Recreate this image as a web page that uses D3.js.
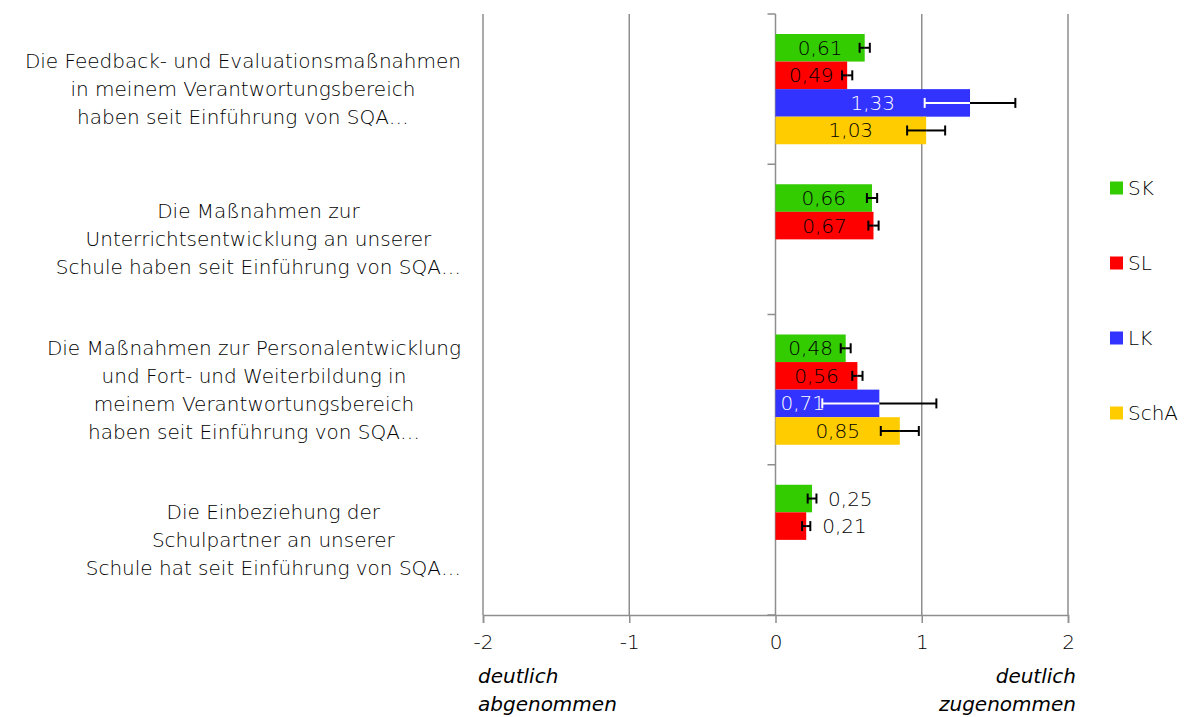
<!DOCTYPE html>
<meta charset="utf-8">
<style>
    * { margin: 0px; }
    body { background: #fff; }
    text {
        font-family: "DejaVu Sans", sans-serif;
        font-weight: 200;
        fill: #000;
    }
    .grid line, .axis line { stroke: #8e8e8e; stroke-width: 1.5px; }
</style>
<svg width="1192" height="717"></svg>
<script src="https://cdn.jsdelivr.net/npm/d3@7/dist/d3.min.js"></script>
<script>
    // categories (each one is drawn as several lines)
    var categories = [
        ["Die Feedback- und Evaluationsmaßnahmen", "in meinem Verantwortungsbereich", "haben seit Einführung von SQA…"],
        ["Die Maßnahmen zur", "Unterrichtsentwicklung an unserer", "Schule haben seit Einführung von SQA…"],
        ["Die Maßnahmen zur Personalentwicklung", "und Fort- und Weiterbildung in", "meinem Verantwortungsbereich", "haben seit Einführung von SQA…"],
        ["Die Einbeziehung der", "Schulpartner an unserer", "Schule hat seit Einführung von SQA…"]
    ];
    var series = ["SK", "SL", "LK", "SchA"];
    var colors = ["#33cc00", "#ff0000", "#3333ff", "#ffcc00"];

    var valSK = [0.61, 0.66, 0.48, 0.25];
    var valSL = [0.49, 0.67, 0.56, 0.21];
    var valLK = [1.33, null, 0.71, null];
    var valSchA = [1.03, null, 0.85, null];

    var errSK = [0.035, 0.035, 0.034, 0.03];
    var errSL = [0.035, 0.035, 0.035, 0.028];
    var errLK = [0.31, null, 0.39, null];
    var errSchA = [0.13, null, 0.13, null];

    var ticks = [-2, -1, 0, 1, 2];
    var leftNote = ["deutlich", "abgenommen"];
    var rightNote = ["deutlich", "zugenommen"];

    var values = [valSK, valSL, valLK, valSchA];
    var errors = [errSK, errSL, errLK, errSchA];

    var svg = d3.select("svg");
    var plotTop = 14, plotBottom = 615;
    var fs = "20px";

    var x = d3.scaleLinear().domain([-2, 2]).range([483, 1068]);
    var y = d3.scaleBand().domain(d3.range(categories.length)).range([plotTop, plotBottom]);
    var ySub = d3.scaleBand().domain(series).range([20, y.bandwidth() - 20]);

    // grid lines
    svg.append("g").attr("class", "grid")
        .selectAll("line")
        .data(ticks.filter(function(t) { return t !== 0; }))
        .enter().append("line")
        .attr("x1", function(d) { return x(d); })
        .attr("x2", function(d) { return x(d); })
        .attr("y1", plotTop)
        .attr("y2", plotBottom);

    // x axis
    var xAxis = svg.append("g").attr("class", "axis")
        .attr("transform", "translate(0," + plotBottom + ")")
        .call(d3.axisBottom(x).tickValues(ticks).tickSize(8).tickPadding(12).tickFormat(String));
    xAxis.select(".domain").attr("stroke", "#8e8e8e").attr("stroke-width", 1.5);
    xAxis.selectAll("text").style("font-size", fs).attr("fill", "#000")
        .attr("font-family", "DejaVu Sans").attr("font-weight", 200);

    // y axis at zero
    var yAxis = svg.append("g").attr("class", "axis");
    yAxis.append("line")
        .attr("x1", x(0)).attr("x2", x(0))
        .attr("y1", plotTop).attr("y2", plotBottom);
    yAxis.selectAll("line.tick")
        .data(d3.range(categories.length + 1))
        .enter().append("line")
        .attr("class", "tick")
        .attr("x1", x(0) - 8).attr("x2", x(0))
        .attr("y1", function(d) { return plotTop + d * y.bandwidth(); })
        .attr("y2", function(d) { return plotTop + d * y.bandwidth(); });

    // category labels: block right-aligned at 460, lines centred in block
    categories.forEach(function(lines, i) {
        var g = svg.append("g");
        var cy = y(i) + y.bandwidth() / 2;
        var t = g.selectAll("text").data(lines).enter().append("text")
            .attr("text-anchor", "middle")
            .style("font-size", fs)
            .attr("y", function(d, j) { return cy + (j - (lines.length - 1) / 2) * 28 + 7; })
            .text(function(d) { return d; });
        var maxW = d3.max(t.nodes(), function(n) { return n.getComputedTextLength(); });
        t.attr("x", 461 - maxW / 2);
    });

    // bars
    var fmt = function(v) { return d3.format(".2f")(v).replace(".", ","); };
    var bars = [];
    series.forEach(function(s, si) {
        values[si].forEach(function(v, ci) {
            if (v === null) return;
            bars.push({ s: s, si: si, ci: ci, v: v, e: errors[si][ci] });
        });
    });

    var bh = ySub.bandwidth();
    var barG = svg.append("g").selectAll("g").data(bars).enter().append("g")
        .attr("transform", function(d) { return "translate(0," + (y(d.ci) + ySub(d.s)) + ")"; });

    barG.append("rect")
        .attr("x", x(0))
        .attr("y", 0)
        .attr("width", function(d) { return x(d.v) - x(0); })
        .attr("height", bh)
        .attr("fill", function(d) { return colors[d.si]; });

    // error bars, white where they sit on the blue bar
    function errColor(d) { return d.s === "LK" ? "#fff" : "#000"; }
    barG.each(function(d) {
        var g = d3.select(this);
        var lo = x(d.v - d.e), hi = x(d.v + d.e), mid = bh / 2, xv = x(d.v);
        g.append("line").attr("x1", lo).attr("x2", xv).attr("y1", mid).attr("y2", mid)
            .attr("stroke", errColor(d)).attr("stroke-width", 2);
        g.append("line").attr("x1", xv).attr("x2", hi).attr("y1", mid).attr("y2", mid)
            .attr("stroke", "#000").attr("stroke-width", 2);
        g.append("line").attr("x1", lo).attr("x2", lo).attr("y1", mid - 5).attr("y2", mid + 5)
            .attr("stroke", errColor(d)).attr("stroke-width", 2);
        g.append("line").attr("x1", hi).attr("x2", hi).attr("y1", mid - 5).attr("y2", mid + 5)
            .attr("stroke", "#000").attr("stroke-width", 2);
    });

    // value labels: centred, at the base if the error bar would cross it, outside for short bars
    function labelPos(d) {
        if (d.v < 0.3) return { x: x(d.v) + 16, a: "start" };
        var c = (x(0) + x(d.v)) / 2;
        if (c + 22 > x(d.v - d.e)) return { x: x(0) + 5, a: "start" };
        return { x: c, a: "middle" };
    }
    barG.append("text")
        .style("font-size", fs)
        .attr("y", bh / 2 + 7)
        .attr("text-anchor", function(d) { return labelPos(d).a; })
        .attr("x", function(d) { return labelPos(d).x; })
        .style("fill", function(d) { return d.s === "LK" ? "#fff" : "#000"; })
        .text(function(d) { return fmt(d.v); });

    // legend
    var leg = svg.append("g").selectAll("g").data(series).enter().append("g")
        .attr("transform", function(d, i) { return "translate(1110," + (188 + i * 75) + ")"; });
    leg.append("rect").attr("x", 0).attr("y", -6.5).attr("width", 13).attr("height", 13)
        .attr("fill", function(d, i) { return colors[i]; });
    leg.append("text").attr("x", 18).attr("y", 7).style("font-size", fs)
        .text(function(d) { return d; });

    // axis end notes
    svg.append("g").selectAll("text").data(leftNote).enter().append("text")
        .attr("x", 478).attr("y", function(d, i) { return 683 + i * 28; })
        .style("font-size", fs).style("font-style", "italic")
        .text(function(d) { return d; });
    svg.append("g").selectAll("text").data(rightNote).enter().append("text")
        .attr("x", 1076).attr("y", function(d, i) { return 683 + i * 28; })
        .attr("text-anchor", "end")
        .style("font-size", fs).style("font-style", "italic")
        .text(function(d) { return d; });
</script>
